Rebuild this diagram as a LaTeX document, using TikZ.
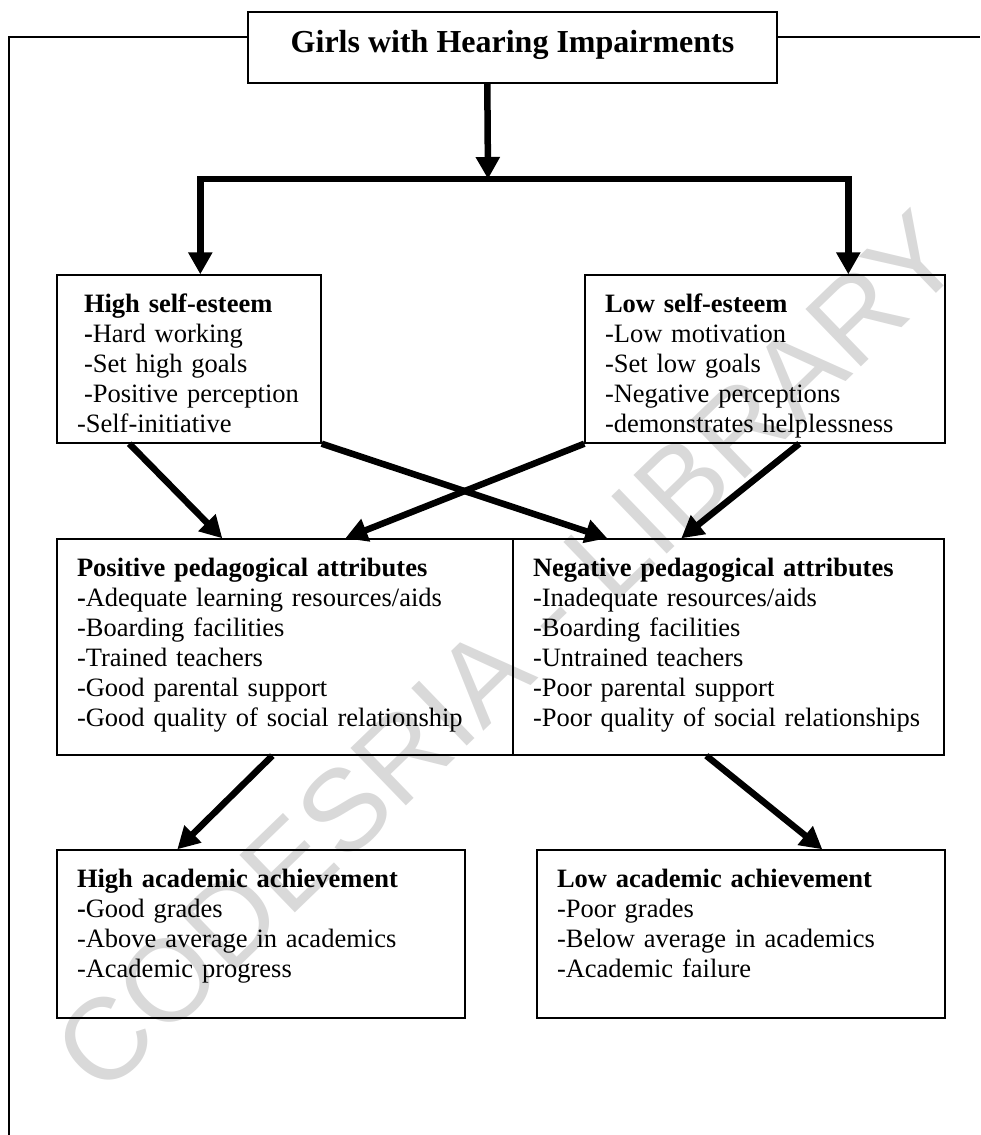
\documentclass[tikz,border=0pt]{standalone}
\usepackage{fontspec}
\setmainfont{Liberation Serif}
\newfontfamily\markfont{Liberation Sans}
\usetikzlibrary{arrows.meta}

\begin{document}
\begin{tikzpicture}[->,>={Triangle[width=11.5pt,length=11pt]},x=0.5pt,y=-0.5pt,node distance=144pt,
    box/.style={rectangle,draw,line width=0.7pt,inner xsep=10pt,inner ysep=0pt,align=left,text height=18.5pt,text depth=65.5pt,font=\fontsize{13.25}{15}\selectfont},
    head box/.style={rectangle,draw,line width=0.7pt,inner sep=0pt,minimum width=264.5pt,text height=20.5pt,text depth=15pt,font=\fontsize{16}{18}\selectfont\bfseries},
    flow/.style={line width=3.25pt},
    frame/.style={-,line width=0.75pt},
    watermark/.style={text=black!15,rotate=44,font=\markfont\fontsize{58}{58}\selectfont}]

    \useasboundingbox (0,0) rectangle (980,1135);

    \node[watermark] (wm) at (508,652) {CODESRIA - LIBRARY};

    \node[head box] (title) at (512.5,47.5) {Girls with Hearing Impairments};

    \node[box, text width=112pt] (hse) [below of=title, xshift=-161.75pt, yshift=-11.75pt]
        {\hspace*{3.5pt}\textbf{High self-esteem}\\
         \hspace*{3.5pt}\textbf{-}Hard working\\
         \hspace*{3.5pt}-Set high goals\\
         \hspace*{3.5pt}-Positive perception\\
         -Self-initiative};
    \node[box, text width=160pt] (lse) [right of=hse, xshift=144pt]
        {\textbf{Low self-esteem}\\-Low motivation\\-Set low goals\\-Negative perceptions\\-demonstrates helplessness};

    \node[box, text width=208pt, text depth=89.5pt] (pos) [below of=hse, xshift=48pt]
        {\textbf{Positive pedagogical attributes}\\\textbf{-}Adequate learning resources/aids\\-Boarding facilities\\-Trained teachers\\-Good parental support\\-Good quality of social relationship};
    \node[box, text width=195.5pt, text depth=89.5pt] (neg) [right of=pos, xshift=77.75pt]
        {\textbf{Negative pedagogical attributes}\\-Inadequate resources/aids\\-Boarding facilities\\-Untrained teachers\\-Poor parental support\\-Poor quality of social relationships};

    \node[box, text width=184pt] (hach) [below of=pos, xshift=-12pt, yshift=0.5pt]
        {\textbf{High academic achievement}\\\textbf{-}Good grades\\-Above average in academics\\-Academic progress};
    \node[box, text width=184pt] (lach) [right of=hach, xshift=96pt]
        {\textbf{Low academic achievement}\\-Poor grades\\-Below average in academics\\-Academic failure};

    % outer frame
    \coordinate (fl) at (9,1135);
    \coordinate (fr) at (980,37);
    \draw[frame] (fl) |- ([yshift=5.25pt]title.west);
    \draw[frame] ([yshift=5.25pt]title.east) -- (fr);

    % split under the title
    \coordinate (split) at (488,179);
    \draw[flow] ([xshift=120pt]title.south west) -- (split);
    \draw[flow] (split) -| ([xshift=72pt]hse.north west);
    \draw[flow] (split) -| ([xshift=132pt]lse.north west);

    \path[flow]
        ([xshift=36.5pt]hse.south west) edge ([xshift=83pt]pos.north west)
        (hse.south east) edge ([xshift=47.5pt]neg.north west)
        (lse.south west) edge ([xshift=144.5pt]pos.north west)
        ([xshift=107.5pt]lse.south west) edge ([xshift=84.5pt]neg.north west)
        ([xshift=108pt]pos.south west) edge ([xshift=60.5pt]hach.north west)
        ([xshift=97pt]neg.south west) edge ([xshift=143pt]lach.north west);
\end{tikzpicture}
\end{document}
